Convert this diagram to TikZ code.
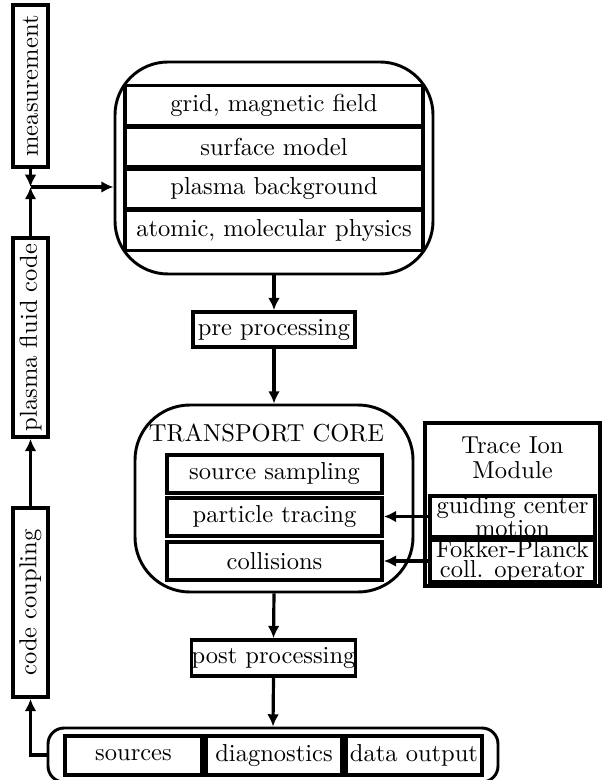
\documentclass[tikz,border=0pt]{standalone}
\usetikzlibrary{arrows.meta}
\newdimen\pxu \pxu=0.408pt
\begin{document}
\begin{tikzpicture}[x=0.408pt, y=-0.408pt,
  box/.style={draw, line width=1.5pt, inner sep=0pt},
  grp/.style={draw, line width=1.2pt, inner sep=0pt},
  arr/.style={line width=1.3pt, -{Latex[length=5pt,width=4.8pt]}},
  tight/.style={align=center, font=\fontsize{10}{8.2}\selectfont}]
\useasboundingbox (0,0) rectangle (611,780);
% top group
\node[grp, minimum width=318\pxu, minimum height=212\pxu, rounded corners=53\pxu] (tg) at (274,168) {};
\node[box, minimum width=298\pxu, minimum height=40\pxu] (grid) at (274,105.5) {grid, magnetic field};
\node[box, minimum width=298\pxu, minimum height=40\pxu] (surf) at (274,147) {surface model};
\node[box, minimum width=298\pxu, minimum height=40\pxu] (plasma) at (274,189) {plasma background};
\node[box, minimum width=298\pxu, minimum height=40\pxu] (atom) at (274,230.5) {atomic, molecular physics};
% pre processing
\node[box, minimum width=162\pxu, minimum height=35\pxu] (pre) at (274,329.5) {pre processing};
% transport core
\node[grp, minimum width=278\pxu, minimum height=187\pxu, rounded corners=55\pxu] (tc) at (274,498.5) {};
\node[inner sep=0pt] (tctitle) at (266.5,432.5) {TRANSPORT CORE};
\node[box, minimum width=215\pxu, minimum height=38\pxu] (ss) at (274.5,474) {source sampling};
\node[box, minimum width=215\pxu, minimum height=38\pxu] (pt) at (274.5,517) {particle tracing};
\node[box, minimum width=215\pxu, minimum height=38\pxu] (col) at (274.5,561) {collisions};
% trace ion module
\node[draw, line width=2pt, inner sep=0pt, minimum width=175\pxu, minimum height=163\pxu] (tim) at (512.5,504.5) {};
\node[align=center, inner sep=0pt] (timtitle) at (512.5,458) {Trace Ion\\[-2pt]Module};
\node[box, tight, minimum width=165\pxu, minimum height=39\pxu] (gcm) at (512.5,516.5) {guiding center\\motion};
\node[box, tight, minimum width=165\pxu, minimum height=38\pxu] (fp) at (512.5,561) {Fokker-Planck\\coll. operator};
% post processing
\node[box, minimum width=161\pxu, minimum height=36\pxu] (post) at (273.5,658) {post processing};
% bottom group
\node[grp, minimum width=450\pxu, minimum height=54\pxu, rounded corners=16\pxu] (bg) at (273,755) {};
\node[box, minimum width=137\pxu, minimum height=39\pxu] (src) at (133.5,755.5) {sources};
\node[box, minimum width=136\pxu, minimum height=39\pxu] (diag) at (274,755.5) {diagnostics};
\node[box, minimum width=136\pxu, minimum height=39\pxu] (dout) at (414,755.5) {data output};
% left column
\node[box, rotate=90, minimum width=162\pxu, minimum height=35\pxu] (meas) at (30.5,86) {measurement};
\node[box, rotate=90, minimum width=199\pxu, minimum height=35\pxu] (pfc) at (30.5,337.5) {plasma fluid code};
\node[box, rotate=90, minimum width=189\pxu, minimum height=35\pxu] (cc) at (30.5,602.5) {code coupling};
\coordinate (J) at (30.5,187);
% connectors
\draw[arr] (meas.west) -- (J);
\draw[arr] (pfc.east) -- (J);
\draw[arr] (J) -- (J -| tg.west);
\draw[arr] (tg.south) -- (pre.north);
\draw[arr] (pre.south) -- (tc.north);
\draw[arr] (tc.south) -- (post.north);
\draw[arr] (post.south) -- (bg.north);
\draw[arr] (gcm.west) -- (gcm.west -| pt.east);
\draw[arr] (fp.west) -- (fp.west -| col.east);
\draw[arr] (bg.west) -| (cc.west);
\draw[arr] (cc.east) -- (pfc.west);
\end{tikzpicture}
\end{document}
